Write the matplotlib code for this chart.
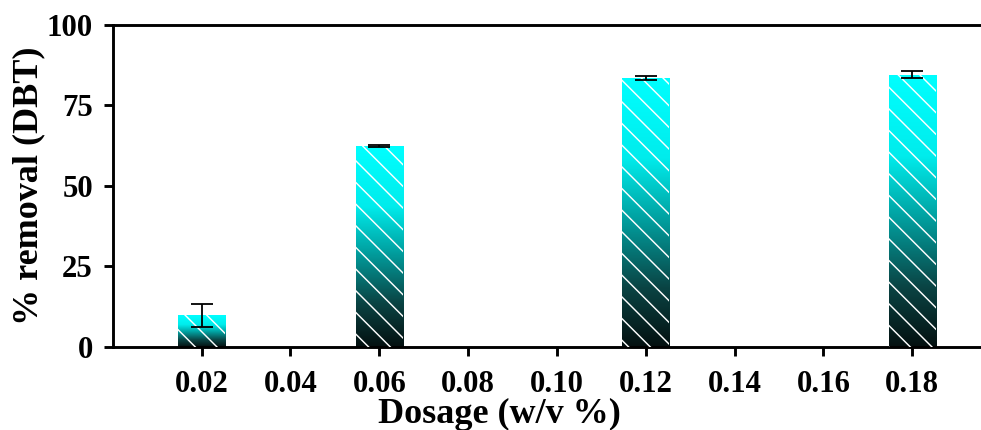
import numpy as np
import matplotlib
matplotlib.use("Agg")
from matplotlib import pyplot as plt
from matplotlib.colors import LinearSegmentedColormap

# data
dosage = [0.02, 0.06, 0.12, 0.18]
removal = [9.9, 62.4, 83.6, 84.6]
removal_err = [3.6, 0.4, 0.6, 1.0]
xticks = [0.02, 0.04, 0.06, 0.08, 0.10, 0.12, 0.14, 0.16, 0.18]
yticks = [0, 25, 50, 75, 100]

plt.rcParams['font.family'] = ['Liberation Serif', 'DejaVu Serif']
plt.rcParams['font.weight'] = 'bold'
plt.rcParams['hatch.linewidth'] = 0.8
plt.rcParams['hatch.color'] = 'white'

dpi = 130
fig = plt.figure(figsize=(981 / dpi, 430 / dpi), dpi=dpi)
ax = fig.add_axes([0.115, 0.193, 0.885, 0.749])

# cyan at the top of each bar fading to near black at the base
cmap = LinearSegmentedColormap.from_list(
    'cyan_dark', [(0.0, '#041010'), (0.22, '#0a4444'), (0.48, '#01a2a2'), (0.7, '#00ecec'), (1.0, '#00ffff')])
grad = np.linspace(0, 1, 256).reshape(-1, 1)

width = 0.0106
bars = ax.bar(dosage, removal, width=width, color='none', edgecolor='none', zorder=2)
for b in bars:
    x0, y0 = b.get_x(), b.get_y()
    w, h = b.get_width(), b.get_height()
    im = ax.imshow(grad, cmap=cmap, origin='lower', aspect='auto',
                   extent=[x0, x0 + w, y0, y0 + h], zorder=1, interpolation='bilinear')
    im.set_clip_path(b)
ax.bar(dosage, removal, width=width, color='none', edgecolor='white', hatch='\\\\',
       linewidth=0, zorder=3)
ax.errorbar(dosage, removal, yerr=removal_err, fmt='none', ecolor='black',
            elinewidth=1.0, capsize=6, capthick=1.0, zorder=4)

ax.set_xlim(0, 0.1955)
ax.set_ylim(0, 100)
ax.set_xticks(xticks)
ax.set_xticklabels([f'{t:.2f}' for t in xticks])
ax.set_yticks(yticks)

for side in ['left', 'bottom', 'top']:
    ax.spines[side].set_linewidth(1.6)
ax.spines['right'].set_visible(False)
ax.tick_params(axis='both', direction='out', length=5, width=1.6, labelsize=17, pad=6)
ax.tick_params(axis='x', pad=8)

ax.set_xlabel('Dosage (w/v %)', fontsize=20, fontweight='bold')
ax.xaxis.set_label_coords(0.445, -0.158)
ax.set_ylabel('% removal (DBT)', fontsize=20, fontweight='bold')
ax.yaxis.set_label_coords(-0.078, 0.5)

fig.savefig('out.png', dpi=dpi)
